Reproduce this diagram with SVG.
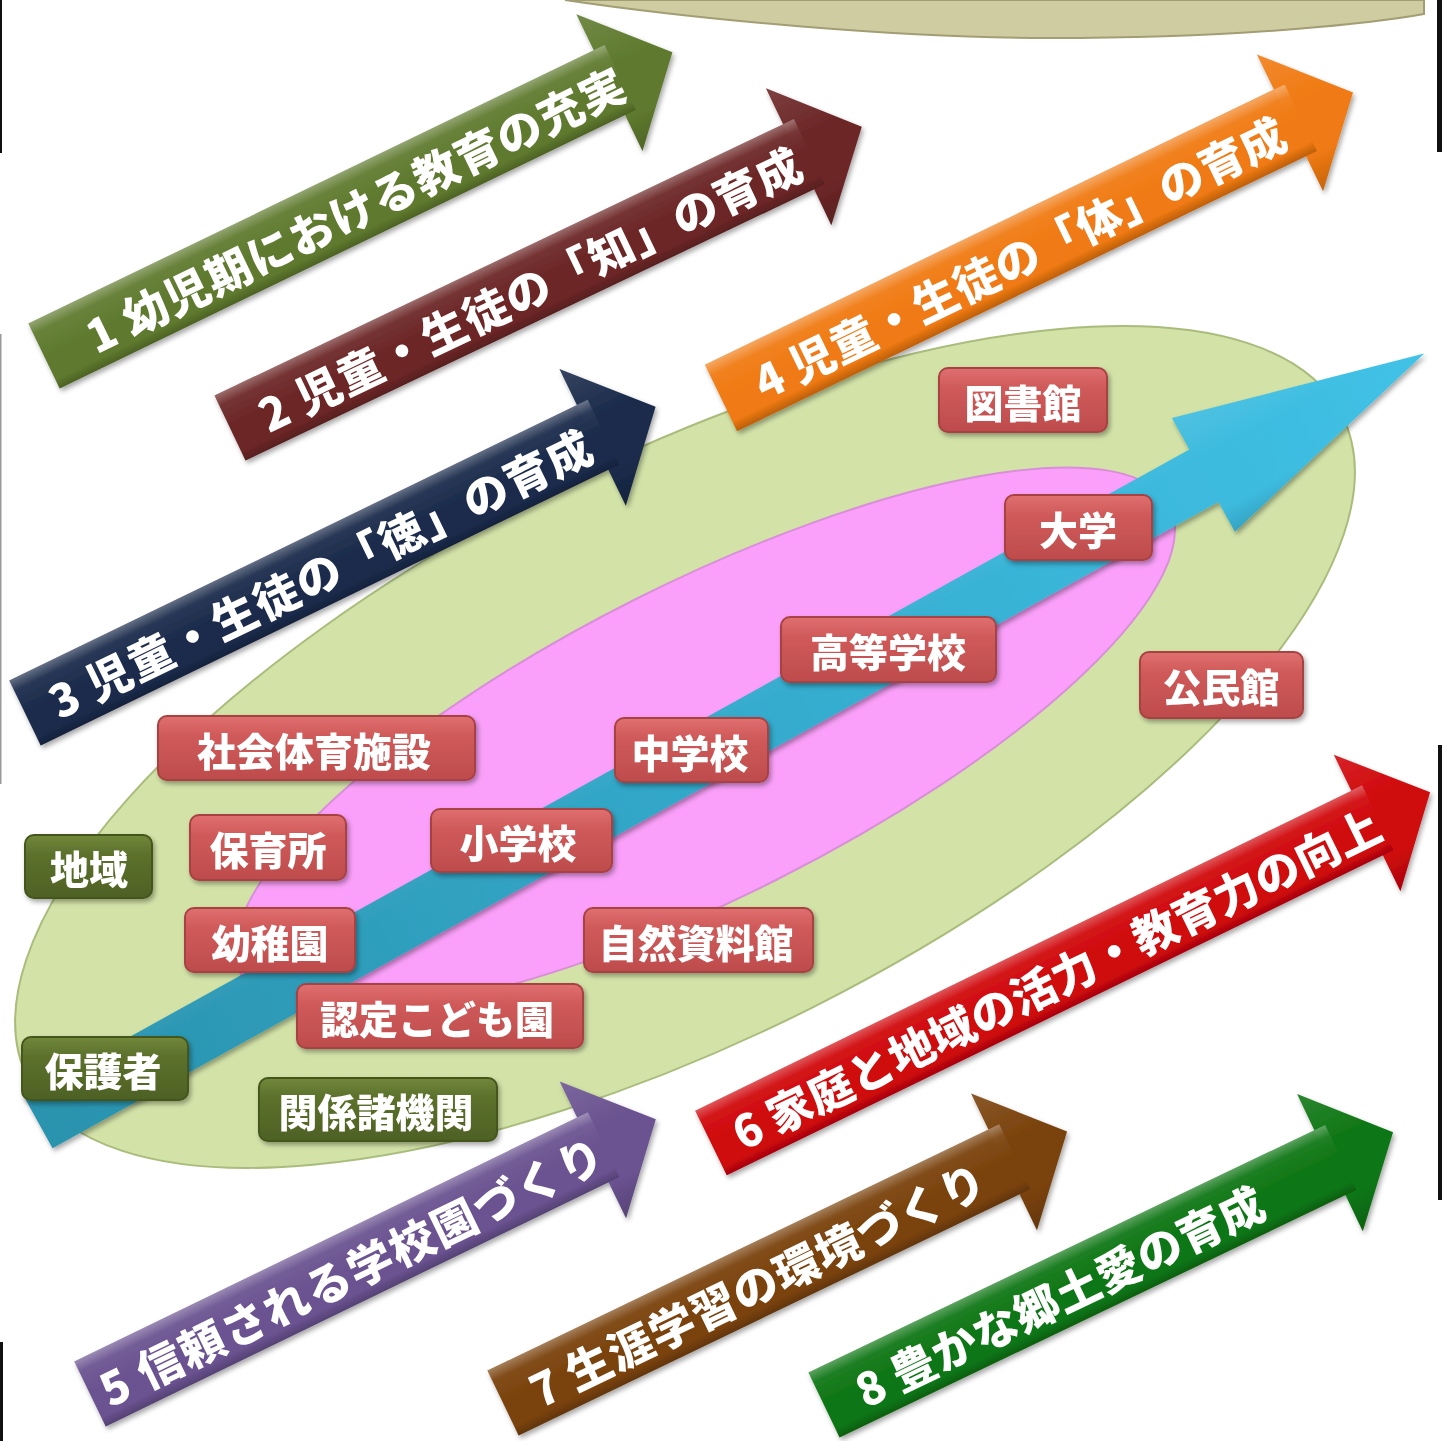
<svg xmlns="http://www.w3.org/2000/svg" width="1442" height="1441" viewBox="0 0 1442 1441">
<defs>
<style>
.at{font-family:"Noto Sans CJK JP","Noto Sans CJK SC",sans-serif;font-weight:900;font-size:45px;fill:#fff;dominant-baseline:central}
.lt{font-family:"Noto Sans CJK JP","Noto Sans CJK SC",sans-serif;font-weight:900;font-size:39px;fill:#fff;text-anchor:middle;dominant-baseline:central}
.red{fill:url(#lred);stroke:#A84242;stroke-width:2}
.grn{fill:url(#lgrn);stroke:#44561C;stroke-width:2}
.bev{fill:url(#bev)}
.hbev{fill:url(#hbev)}
</style>
<linearGradient id="bev" gradientUnits="userSpaceOnUse" x1="0" y1="-36" x2="0" y2="36">
<stop offset="0" stop-color="#fff" stop-opacity="0.32"/>
<stop offset="0.16" stop-color="#fff" stop-opacity="0.06"/>
<stop offset="0.5" stop-color="#fff" stop-opacity="0"/>
<stop offset="0.86" stop-color="#000" stop-opacity="0"/>
<stop offset="1" stop-color="#000" stop-opacity="0.2"/>
</linearGradient>
<linearGradient id="hbev" gradientUnits="userSpaceOnUse" x1="0" y1="-76" x2="0" y2="76">
<stop offset="0" stop-color="#fff" stop-opacity="0.12"/>
<stop offset="0.4" stop-color="#fff" stop-opacity="0"/>
<stop offset="0.75" stop-color="#000" stop-opacity="0"/>
<stop offset="1" stop-color="#000" stop-opacity="0.18"/>
</linearGradient>
<linearGradient id="lred" x1="0" y1="0" x2="0" y2="1">
<stop offset="0" stop-color="#E07070"/>
<stop offset="0.3" stop-color="#D05A5A"/>
<stop offset="1" stop-color="#BE4C4C"/>
</linearGradient>
<linearGradient id="lgrn" x1="0" y1="0" x2="0" y2="1">
<stop offset="0" stop-color="#72883A"/>
<stop offset="0.3" stop-color="#5C712C"/>
<stop offset="1" stop-color="#4E6124"/>
</linearGradient>
<linearGradient id="blue" gradientUnits="userSpaceOnUse" x1="0" y1="0" x2="1585" y2="0">
<stop offset="0" stop-color="#2A93AE"/>
<stop offset="0.5" stop-color="#34AACC"/>
<stop offset="1" stop-color="#40C2E6"/>
</linearGradient>
<filter id="sh" x="-10%" y="-10%" width="120%" height="130%">
<feDropShadow dx="2" dy="3" stdDeviation="2.5" flood-color="#000" flood-opacity="0.35"/>
</filter>
</defs>
<rect width="1442" height="1441" fill="#fff"/>

<g id="backdrop">
<path d="M565 0 C700 20 900 38 1050 38 C1250 38 1380 22 1424 14 L1424 0 Z" fill="#D0CCA2" stroke="#A39D74" stroke-width="2"/>
<ellipse id="area-community" cx="685" cy="747" rx="736" ry="290" transform="rotate(-26.8 685 747)" fill="#D3E3A8" stroke="#A9BC7C" stroke-width="2"/>
<ellipse id="area-school" cx="705" cy="740" rx="520" ry="157" transform="rotate(-26.7 705 740)" fill="#FBA0FA" stroke="#D88FD8" stroke-width="2"/>
</g>

<g id="connectors">
<g id="growth-arrow" filter="url(#sh)">
<g transform="translate(38 1122) rotate(-29)">
<polygon points="0,-30 1333,-30 1333,-66 1585,0 1333,64 1333,30 0,30" fill="url(#blue)"/>
<polygon class="hbev" points="0,-30 1333,-30 1333,-66 1585,0 1333,64 1333,30 0,30"/>
</g>
</g>
</g>

<g id="labels" filter="url(#sh)">
<g id="n-toshokan"><rect class="red" x="939" y="368" width="168" height="64" rx="9"/><text class="lt" x="1023" y="401">図書館</text></g>
<g id="n-daigaku"><rect class="red" x="1005" y="495" width="147" height="65" rx="9"/><text class="lt" x="1078" y="528">大学</text></g>
<g id="n-koko"><rect class="red" x="781" y="617" width="215" height="65" rx="9"/><text class="lt" x="888" y="650">高等学校</text></g>
<g id="n-kominkan"><rect class="red" x="1140" y="652" width="163" height="66" rx="9"/><text class="lt" x="1221" y="685">公民館</text></g>
<g id="n-chugaku"><rect class="red" x="615" y="718" width="153" height="64" rx="9"/><text class="lt" x="690" y="751">中学校</text></g>
<g id="n-shakai"><rect class="red" x="158" y="716" width="317" height="64" rx="9"/><text class="lt" x="314" y="749">社会体育施設</text></g>
<g id="n-shogaku"><rect class="red" x="431" y="809" width="181" height="63" rx="9"/><text class="lt" x="518" y="841">小学校</text></g>
<g id="n-hoikusho"><rect class="red" x="190" y="815" width="156" height="65" rx="9"/><text class="lt" x="268" y="848">保育所</text></g>
<g id="n-chiiki"><rect class="grn" x="25" y="835" width="127" height="63" rx="9"/><text class="lt" x="89" y="867">地域</text></g>
<g id="n-yochien"><rect class="red" x="185" y="908" width="170" height="64" rx="9"/><text class="lt" x="270" y="941">幼稚園</text></g>
<g id="n-shizen"><rect class="red" x="584" y="908" width="229" height="64" rx="9"/><text class="lt" x="696" y="941">自然資料館</text></g>
<g id="n-nintei"><rect class="red" x="297" y="984" width="286" height="64" rx="9"/><text class="lt" x="437" y="1017">認定こども園</text></g>
<g id="n-hogosha"><rect class="grn" x="22" y="1037" width="166" height="63" rx="9"/><text class="lt" x="103" y="1069">保護者</text></g>
<g id="n-kankei"><rect class="grn" x="259" y="1078" width="238" height="63" rx="9"/><text class="lt" x="376" y="1110">関係諸機関</text></g>
</g>

<g id="policy-arrows">
<g id="p1" filter="url(#sh)"><g transform="translate(44 356) rotate(-25.8)">
<polygon points="0,-36 628,-36 628,-76 698,0 628,76 628,36 0,36" fill="#5F7A2E"/>
<polygon class="hbev" points="628,-76 698,0 628,76"/><rect class="bev" x="0" y="-36" width="640" height="72"/>
<text class="at" x="48" y="2" textLength="592">1 幼児期における教育の充実</text></g></g>

<g id="p2" filter="url(#sh)"><g transform="translate(230 428) rotate(-25.5)">
<polygon points="0,-36 630,-36 630,-76 700,0 630,76 630,36 0,36" fill="#6C2626"/>
<polygon class="hbev" points="630,-76 700,0 630,76"/><rect class="bev" x="0" y="-36" width="642" height="72"/>
<text class="at" x="33" y="2" textLength="595">2 児童・生徒の「知」の育成</text></g></g>

<g id="p3" filter="url(#sh)"><g transform="translate(25 713) rotate(-25.9)">
<polygon points="0,-36 631,-36 631,-76 701,0 631,76 631,36 0,36" fill="#1B2B4B"/>
<polygon class="hbev" points="631,-76 701,0 631,76"/><rect class="bev" x="0" y="-36" width="643" height="72"/>
<text class="at" x="28" y="2" textLength="597">3 児童・生徒の「徳」の育成</text></g></g>

<g id="p4" filter="url(#sh)"><g transform="translate(721 398) rotate(-25.8)">
<polygon points="0,-37 632,-37 632,-76 702,0 632,76 632,37 0,37" fill="#F07A12"/>
<polygon class="hbev" points="632,-76 702,0 632,76"/><rect class="bev" x="0" y="-37" width="644" height="74"/>
<text class="at" x="38" y="2" textLength="584">4 児童・生徒の「体」の育成</text></g></g>

<g id="p5" filter="url(#sh)"><g transform="translate(90 1394) rotate(-25.9)">
<polygon points="0,-36 559,-36 559,-76 629,0 559,76 559,36 0,36" fill="#6A5290"/>
<polygon class="hbev" points="559,-76 629,0 559,76"/><rect class="bev" x="0" y="-36" width="571" height="72"/>
<text class="at" x="12" y="2" textLength="553">5 信頼される学校園づくり</text></g></g>

<g id="p6" filter="url(#sh)"><g transform="translate(711 1143) rotate(-26)">
<polygon points="0,-36 730,-36 730,-76 800,0 730,76 730,36 0,36" fill="#D0070B"/>
<polygon class="hbev" points="730,-76 800,0 730,76"/><rect class="bev" x="0" y="-36" width="742" height="72"/>
<text class="at" x="25" y="2" textLength="715">6 家庭と地域の活力・教育力の向上</text></g></g>

<g id="p7" filter="url(#sh)"><g transform="translate(503 1403) rotate(-25.7)">
<polygon points="0,-36 556,-36 556,-76 626,0 556,76 556,36 0,36" fill="#7A420C"/>
<polygon class="hbev" points="556,-76 626,0 556,76"/><rect class="bev" x="0" y="-36" width="568" height="72"/>
<text class="at" x="31" y="2" textLength="499">7 生涯学習の環境づくり</text></g></g>

<g id="p8" filter="url(#sh)"><g transform="translate(824 1405) rotate(-25.6)">
<polygon points="0,-36 561,-36 561,-76 631,0 561,76 561,36 0,36" fill="#0E7614"/>
<polygon class="hbev" points="561,-76 631,0 561,76"/><rect class="bev" x="0" y="-36" width="573" height="72"/>
<text class="at" x="36" y="2" textLength="447">8 豊かな郷土愛の育成</text></g></g>
</g>

<g id="edges">
<rect x="0" y="0" width="2" height="153" fill="#111"/>
<rect x="0" y="334" width="1.5" height="450" fill="#9a9a9a"/>
<rect x="0" y="1342" width="3" height="99" fill="#111"/>
<rect x="1437" y="0" width="5" height="152" fill="#111"/>
<rect x="1438" y="745" width="4" height="455" fill="#111"/>
</g>
</svg>
